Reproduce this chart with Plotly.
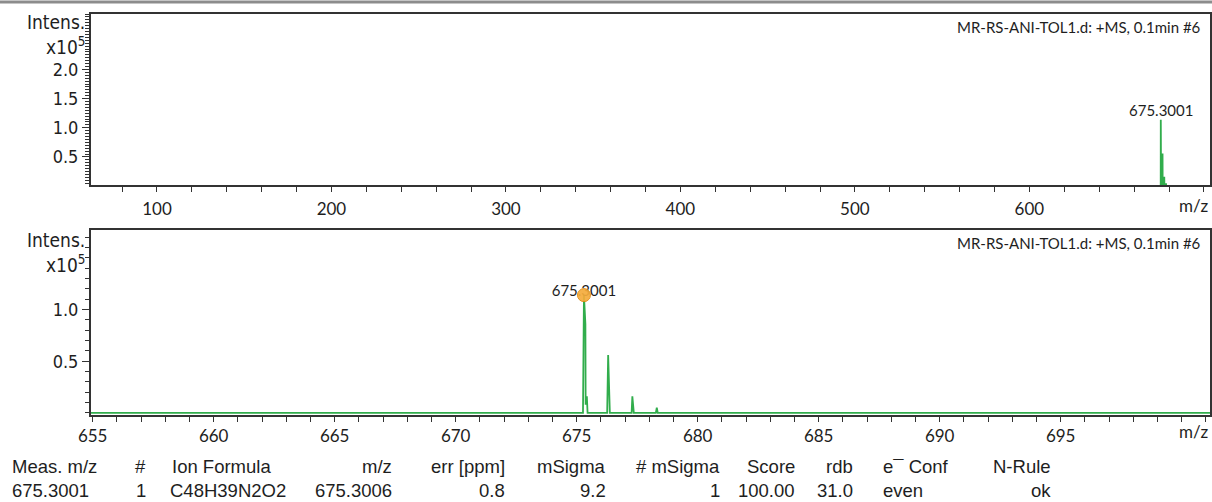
import plotly.graph_objects as go

# ---------------------------------------------------------------------------
# Mass spectrum profile: m/z and intensity (intensity in units of 1e5 counts)
# ---------------------------------------------------------------------------
mz = [55.0,
      675.26, 675.30, 675.36, 675.37, 675.42, 675.45,
      676.26, 676.30, 676.33, 676.37,
      677.27, 677.30, 677.33, 677.36,
      678.27, 678.31, 678.35,
      710.0]
intensity = [0.0,
             0.0, 1.14, 0.86, 0.08, 0.16, 0.0,
             0.0, 0.56, 0.30, 0.0,
             0.0, 0.16, 0.08, 0.0,
             0.0, 0.05, 0.0,
             0.0]

# Labelled peak
peak_mz = 675.3001
peak_intensity = 1.14
peak_label = "675.3001"

spectrum_title = "MR-RS-ANI-TOL1.d: +MS, 0.1min #6"

# Axis ticks
full_xticks = [100, 200, 300, 400, 500, 600]
zoom_xticks = [655, 660, 665, 670, 675, 680, 685, 690, 695]
full_yticks = [0.5, 1.0, 1.5, 2.0]
zoom_yticks = [0.5, 1.0]

# Formula result table
table_headers = ["Meas. m/z", "#", "Ion Formula", "m/z", "err [ppm]", "mSigma",
                 "# mSigma", "Score", "rdb", "e\u00af Conf", "N-Rule"]
table_values = ["675.3001", "1", "C48H39N2O2", "675.3006", "0.8", "9.2",
                "1", "100.00", "31.0", "even", "ok"]

# ---------------------------------------------------------------------------
W, H = 1212, 502


def px_x(px):
    return px / W


def px_y(py):
    return 1 - py / H


GREEN = "#31ad4c"
AXIS = "#333333"
TXT = "#1e1e1e"
AXIS_FONT = "DejaVu Sans Condensed, DejaVu Sans, sans-serif"
NUM_FONT = "Lato, Open Sans, sans-serif"
TABLE_FONT = "Liberation Sans, Arial, sans-serif"

fig = go.Figure()

# full-range spectrum
fig.add_trace(go.Scatter(x=mz, y=intensity, mode="lines", xaxis="x", yaxis="y",
                         line=dict(color=GREEN, width=1.8), hoverinfo="skip"))
# zoomed spectrum
fig.add_trace(go.Scatter(x=mz, y=intensity, mode="lines", xaxis="x2", yaxis="y2",
                         line=dict(color=GREEN, width=1.8), hoverinfo="skip"))
# peak label in zoomed view (drawn under the marker)
fig.add_trace(go.Scatter(x=[peak_mz], y=[peak_intensity + 0.03], mode="text",
                         text=[peak_label], textposition="middle center",
                         textfont=dict(family=NUM_FONT, size=15, color=TXT),
                         xaxis="x2", yaxis="y2", hoverinfo="skip"))
fig.add_trace(go.Scatter(x=[peak_mz], y=[peak_intensity], mode="markers",
                         marker=dict(size=13, color="#f5ac3c", opacity=0.92,
                                     line=dict(color="#e08b12", width=1)),
                         xaxis="x2", yaxis="y2", hoverinfo="skip"))

common_axis = dict(showline=True, linecolor=AXIS, linewidth=2, mirror=True,
                   showgrid=False, zeroline=False, ticks="outside",
                   tickcolor=AXIS, tickwidth=1.3, automargin=False)

fig.update_layout(
    width=W, height=H,
    margin=dict(l=0, r=0, t=0, b=0, autoexpand=False),
    paper_bgcolor="white", plot_bgcolor="white",
    showlegend=False,
    xaxis=dict(domain=[px_x(91), px_x(1210)], range=[62.2, 703.5], anchor="y",
               tickmode="array", tickvals=full_xticks,
               ticktext=[str(v) for v in full_xticks], ticklen=5,
               ticklabelstandoff=3,
               tickfont=dict(family=NUM_FONT, size=17, color=TXT),
               minor=dict(dtick=20, tick0=0, ticks="outside", ticklen=5,
                          tickcolor=AXIS, tickwidth=1.3),
               **common_axis),
    yaxis=dict(domain=[px_y(185), px_y(14)], range=[0.02, 2.95], anchor="x",
               tickmode="array", tickvals=full_yticks,
               ticktext=[f"{v:.1f}" for v in full_yticks], ticklen=7,
               tickfont=dict(family=AXIS_FONT, size=18, color=TXT),
               minor=dict(dtick=0.05, tick0=0, ticks="outside", ticklen=4,
                          tickcolor=AXIS, tickwidth=1),
               **common_axis),
    xaxis2=dict(domain=[px_x(91), px_x(1210)], range=[654.93, 701.17], anchor="y2",
                tickmode="array", tickvals=zoom_xticks,
                ticktext=[str(v) for v in zoom_xticks], ticklen=5,
                tickfont=dict(family=NUM_FONT, size=17, color=TXT),
                minor=dict(dtick=1, tick0=0, ticks="outside", ticklen=5,
                           tickcolor=AXIS, tickwidth=1.3),
                **common_axis),
    yaxis2=dict(domain=[px_y(414.5), px_y(230)], range=[-0.015, 1.77], anchor="x2",
                tickmode="array", tickvals=zoom_yticks,
                ticktext=[f"{v:.1f}" for v in zoom_yticks], ticklen=7,
                tickfont=dict(family=AXIS_FONT, size=18, color=TXT),
                minor=dict(dtick=0.1, tick0=0, ticks="outside", ticklen=4,
                           tickcolor=AXIS, tickwidth=1),
                **common_axis),
)

# separator line across the top of the page
fig.add_shape(type="line", xref="paper", yref="paper", x0=0, x1=1,
              y0=px_y(2), y1=px_y(2), line=dict(color="#8c8c8c", width=3))

ann = []
# axis captions for both panels
for top_px in (22, 240):
    ann.append(dict(text="Intens.", x=px_x(87), y=px_y(top_px), xref="paper", yref="paper",
                    xanchor="right", yanchor="middle", showarrow=False,
                    font=dict(family=AXIS_FONT, size=19, color=TXT)))
    ann.append(dict(text="x10<sup>5</sup>", x=px_x(87), y=px_y(top_px + 24), xref="paper",
                    yref="paper", xanchor="right", yanchor="middle", showarrow=False,
                    font=dict(family=AXIS_FONT, size=19, color=TXT)))
# m/z captions
for mid_px in (205, 431):
    ann.append(dict(text="m/z", x=px_x(1210), y=px_y(mid_px), xref="paper", yref="paper",
                    xanchor="right", yanchor="middle", showarrow=False,
                    font=dict(family=NUM_FONT, size=17, color=TXT)))
# spectrum titles
for mid_px in (27, 243):
    ann.append(dict(text=spectrum_title, x=px_x(1203), y=px_y(mid_px), xref="paper",
                    yref="paper", xanchor="right", yanchor="middle", showarrow=False,
                    font=dict(family=NUM_FONT, size=15, color=TXT)))
# peak label in full-range view
ann.append(dict(text=peak_label, x=peak_mz, y=peak_intensity, xref="x", yref="y",
                xanchor="center", yanchor="bottom", yshift=-1, showarrow=False,
                font=dict(family=NUM_FONT, size=15, color=TXT)))

# result table below the spectra
header_anchor = [(10, "left"), (140, "center"), (170, "left"), (394, "right"),
                 (507, "right"), (608, "right"), (722, "right"), (797, "right"),
                 (855, "right"), (881, "left"), (1053, "right")]
value_anchor = [(91, "right"), (141, "center"), (168, "left"), (394, "right"),
                (507, "right"), (608, "right"), (722, "right"), (797, "right"),
                (855, "right"), (881, "left"), (1053, "right")]
for txt, (xp, anc) in zip(table_headers, header_anchor):
    ann.append(dict(text=txt, x=px_x(xp), y=px_y(466), xref="paper", yref="paper",
                    xanchor=anc, yanchor="middle", showarrow=False,
                    font=dict(family=TABLE_FONT, size=18.5, color=TXT)))
for txt, (xp, anc) in zip(table_values, value_anchor):
    ann.append(dict(text=txt, x=px_x(xp), y=px_y(490), xref="paper", yref="paper",
                    xanchor=anc, yanchor="middle", showarrow=False,
                    font=dict(family=TABLE_FONT, size=18.5, color=TXT)))

fig.update_layout(annotations=ann)
fig.write_html("out.html")
